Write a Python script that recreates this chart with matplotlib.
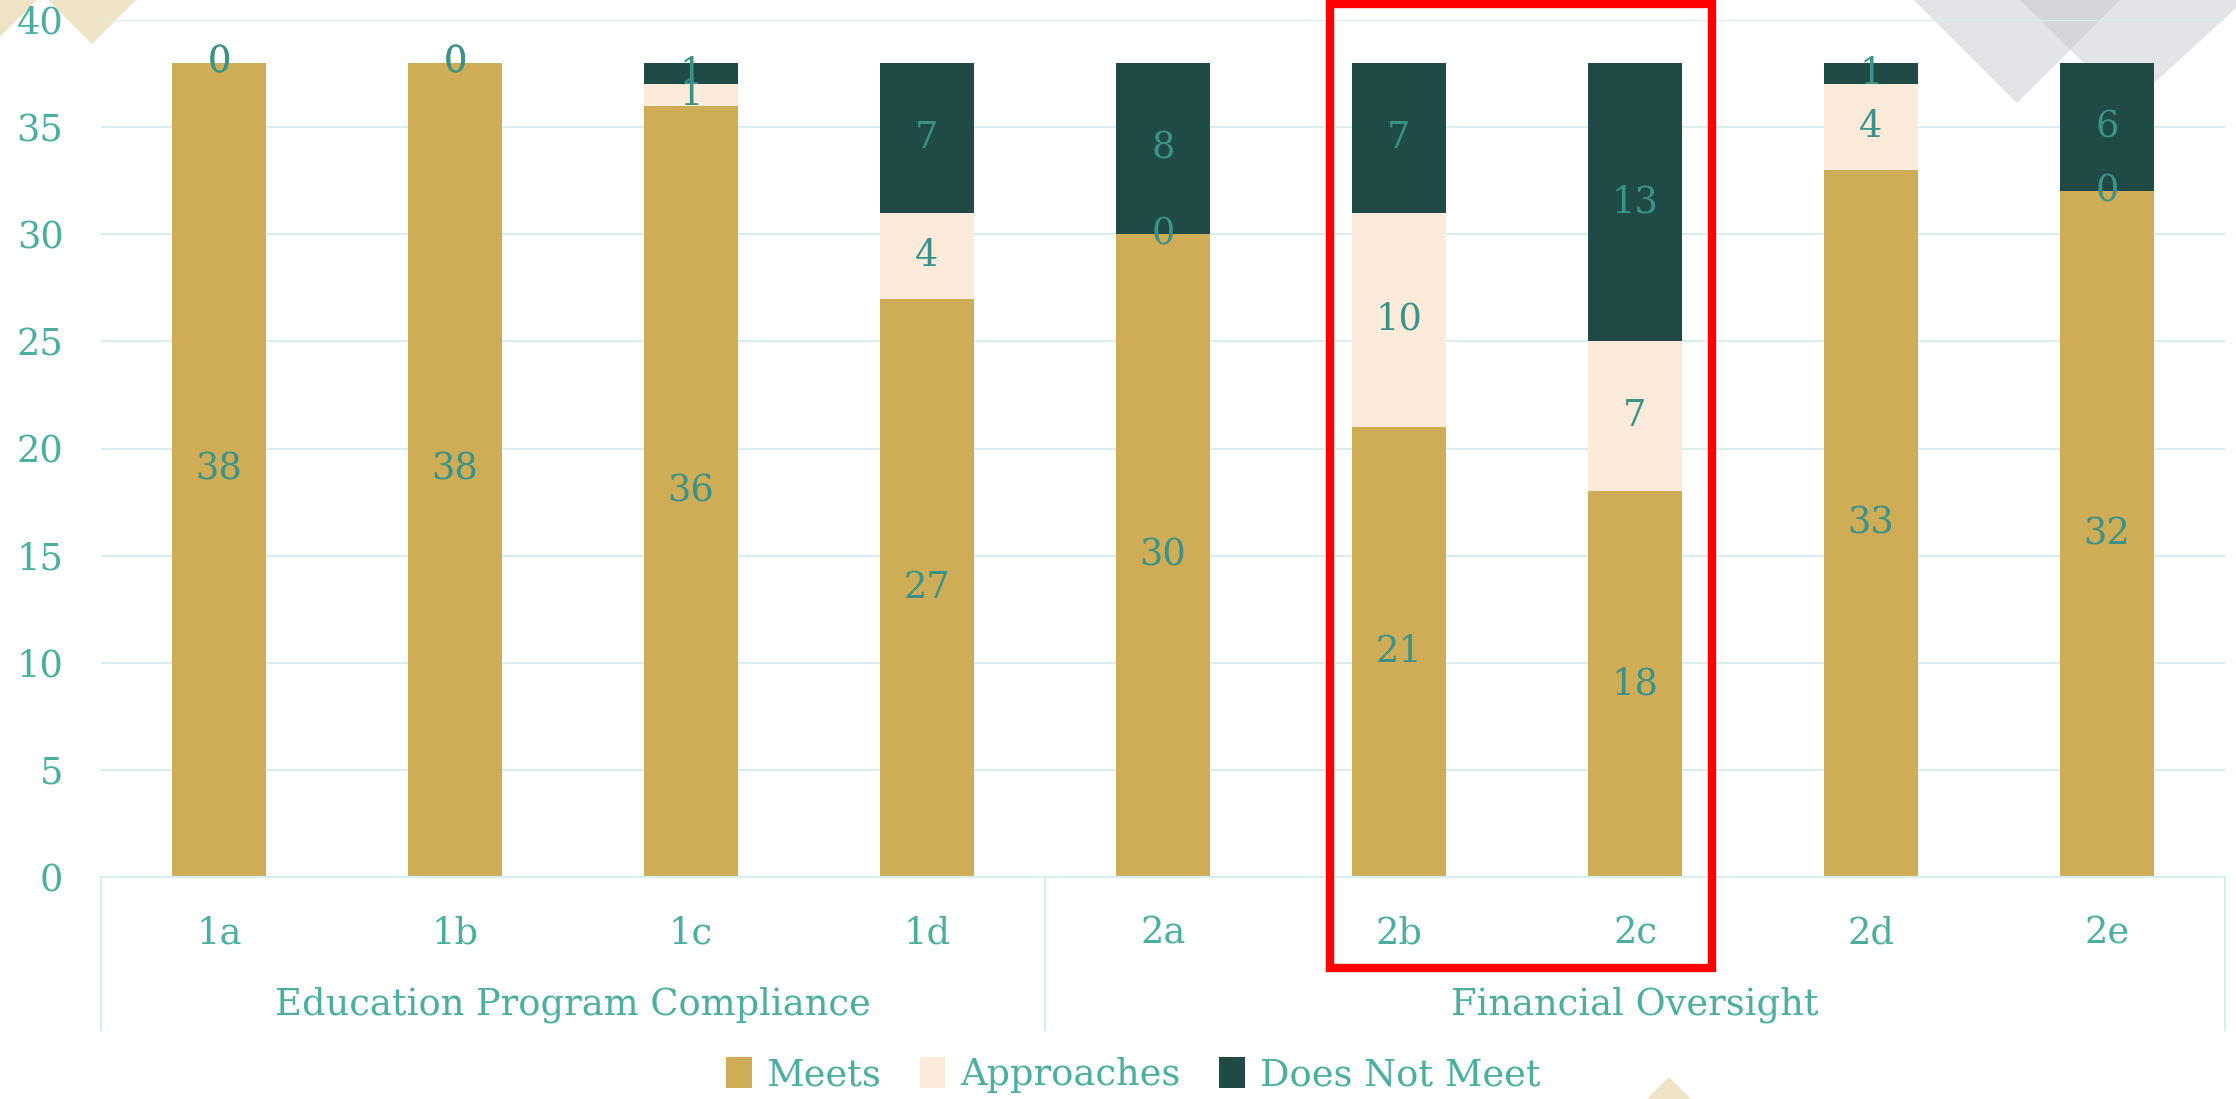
import numpy as np
import matplotlib.pyplot as plt
from matplotlib.patches import Polygon, Rectangle
from matplotlib.lines import Line2D

plt.rcParams['font.family'] = ['DejaVu Serif']

categories = ['1a', '1b', '1c', '1d', '2a', '2b', '2c', '2d', '2e']
groups = ['Education Program Compliance', 'Financial Oversight']
group_sizes = [4, 5]
meets = [38, 38, 36, 27, 30, 21, 18, 33, 32]
approaches = [0, 0, 1, 4, 0, 10, 7, 4, 0]
does_not_meet = [0, 0, 1, 7, 8, 7, 13, 1, 6]
series_names = ['Meets', 'Approaches', 'Does Not Meet']
colors = ['#cfad56', '#fcebdb', '#1f4a45']

W, H = 2236, 1099
tick_col = '#4aaea0'
lab_col = '#3b9288'
grid_col = '#d8eeec'
fs = 26.5

fig = plt.figure(figsize=(W / 100, H / 100), dpi=100)

def px(x, y):
    return (x / W, 1 - y / H)

# slide decorations (behind the chart)
for pts, c, a in [
    ([(0, 0), (37, 0), (0, 37)], '#efe4c8', 1),
    ([(48, 0), (136, 0), (92, 44)], '#efe4c8', 1),
    ([(1914, 0), (2120, 0), (2017, 103)], '#c9c8d2', 0.5),
    ([(2020, 0), (2236, 0), (2236, 8), (2128, 107)], '#c9c8d2', 0.5),
    ([(1669, 1077), (1647, 1099), (1691, 1099)], '#efe4c8', 1),
]:
    fig.patches.append(Polygon([px(*p) for p in pts], closed=True, transform=fig.transFigure,
                               facecolor=c, edgecolor='none', alpha=a, zorder=-1))

ax = fig.add_axes([101 / W, 1 - 877 / H, (2225 - 101) / W, (877 - 20) / H])
ax.set_facecolor('none')

x = np.arange(len(categories))
bw = 0.4
b1 = ax.bar(x, meets, bw, color=colors[0], label=series_names[0], zorder=2)
b2 = ax.bar(x, approaches, bw, bottom=meets, color=colors[1], label=series_names[1], zorder=2)
bottom3 = np.array(meets) + np.array(approaches)
b3 = ax.bar(x, does_not_meet, bw, bottom=bottom3, color=colors[2], label=series_names[2], zorder=2)

for bars, vals in [(b1, meets), (b2, approaches), (b3, does_not_meet)]:
    ax.bar_label(bars, labels=[str(v) for v in vals], label_type='center',
                 color=lab_col, fontsize=fs, zorder=3)

ax.set_xlim(-0.5, len(categories) - 0.5)
ax.set_ylim(0, 40)
ax.set_yticks(range(0, 41, 5))
ax.yaxis.grid(True, color=grid_col, lw=1.5, zorder=0)
ax.set_axisbelow(True)
for s in ['left', 'right', 'top']:
    ax.spines[s].set_visible(False)
ax.spines['bottom'].set_color(grid_col)
ax.spines['bottom'].set_linewidth(1.5)
ax.tick_params(axis='y', length=0, pad=27, labelsize=fs, labelcolor=tick_col)
ax.set_xticks([])

axh = 877 - 20
trans = ax.get_xaxis_transform()
for i, c in enumerate(categories):
    ax.text(i, -56 / axh, c, transform=trans, ha='center', va='center',
            fontsize=fs, color=tick_col)

start = -0.5
bounds = [start]
for g, n in zip(groups, group_sizes):
    ax.text(start + n / 2, -128 / axh, g, transform=trans, ha='center', va='center',
            fontsize=fs, color=tick_col)
    start += n
    bounds.append(start)
for b in bounds:
    ax.add_line(Line2D([b, b], [0, -(1030 - 877) / axh], transform=trans,
                       color=grid_col, lw=1.5, clip_on=False))

fig.legend(handles=[b1, b2, b3], labels=series_names, loc='center',
           bbox_to_anchor=(1133 / W, 1 - 1075 / H), ncol=3, frameon=False,
           fontsize=fs, labelcolor=tick_col, handlelength=0.7, handleheight=0.9,
           handletextpad=0.4, columnspacing=1.05)

# highlight box
x0, y0 = px(1330, 968)
x1, y1 = px(1712, 4)
fig.patches.append(Rectangle((x0, y0), x1 - x0, y1 - y0, transform=fig.transFigure,
                             fill=False, edgecolor='#ff0000', lw=6, zorder=10))

fig.savefig('out.png', dpi=100)
